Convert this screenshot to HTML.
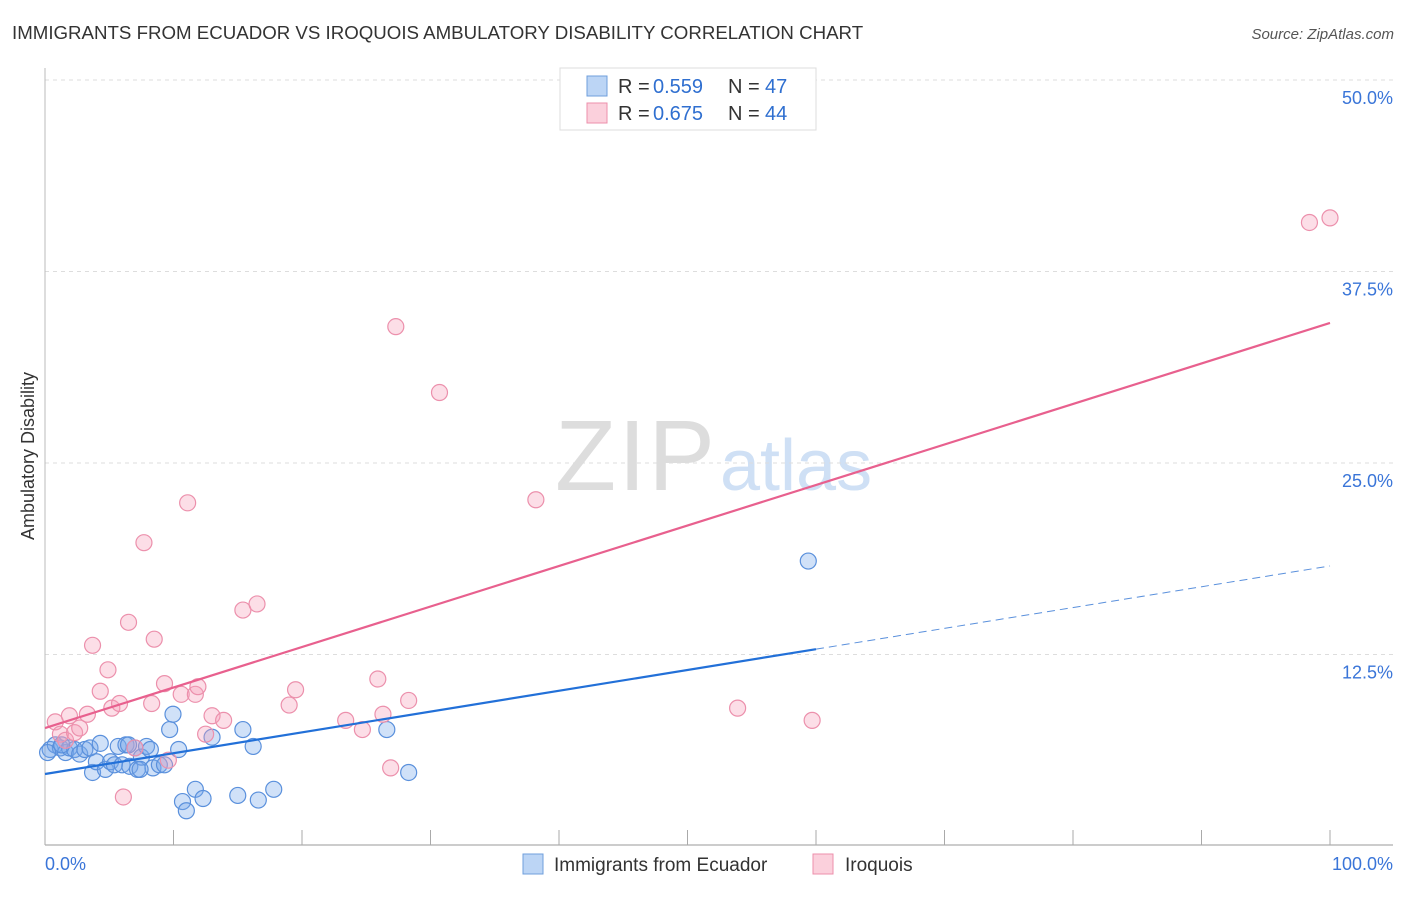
<!DOCTYPE html>
<html><head><meta charset="utf-8"><style>
body{margin:0;background:#fff;font-family:"Liberation Sans",sans-serif;}
svg text{font-family:"Liberation Sans",sans-serif;}
</style></head><body>
<svg id="chart" width="1406" height="892">
<text x="12" y="39" font-size="18.7" fill="#333">IMMIGRANTS FROM ECUADOR VS IROQUOIS AMBULATORY DISABILITY CORRELATION CHART</text>
<text x="1394" y="39" font-size="15" fill="#555" font-style="italic" text-anchor="end">Source: ZipAtlas.com</text>
<text x="715" y="490" font-size="100" fill="#ddd" font-family="Liberation Serif" text-anchor="end" textLength="160">ZIP</text>
<text x="720" y="490" font-size="72" fill="#cfe0f5">atlas</text>
<text transform="translate(34,456) rotate(-90)" font-size="18" fill="#333" text-anchor="middle">Ambulatory Disability</text>
<g id="grid"></g><g id="marks"></g>
<g>
<rect x="560" y="68" width="256" height="62" fill="#fff" stroke="#ddd"/>
<rect x="587" y="76" width="20" height="20" fill="#bcd5f5" stroke="#6f9fdc"/>
<text x="618" y="93" font-size="20" fill="#333">R =</text><text x="653" y="93" font-size="20" fill="#2f6fd0">0.559</text>
<text x="728" y="93" font-size="20" fill="#333">N =</text><text x="765" y="93" font-size="20" fill="#2f6fd0">47</text>
<rect x="587" y="103" width="20" height="20" fill="#fbd0dc" stroke="#ec8fab"/>
<text x="618" y="120" font-size="20" fill="#333">R =</text><text x="653" y="120" font-size="20" fill="#2f6fd0">0.675</text>
<text x="728" y="120" font-size="20" fill="#333">N =</text><text x="765" y="120" font-size="20" fill="#2f6fd0">44</text>
</g>
<g>
<rect x="523" y="854" width="20" height="20" fill="#bcd5f5" stroke="#6f9fdc"/>
<text x="554" y="871" font-size="19" fill="#333">Immigrants from Ecuador</text>
<rect x="813" y="854" width="20" height="20" fill="#fbd0dc" stroke="#ec8fab"/>
<text x="845" y="871" font-size="19" fill="#333">Iroquois</text>
</g>
</svg>
<script>
const yTicks=[12.5,25,37.5,50];
const yTickLabels=["12.5%","25.0%","37.5%","50.0%"];
const xTickLabels=["0.0%","100.0%"];
const blueX=[0.4,0.8,1.2,1.6,1.9,2.3,2.7,3.1,3.5,3.7,4.0,4.3,4.7,5.1,5.4,5.7,6.0,6.3,6.6,7.0,7.2,7.5,7.9,8.2,8.4,8.9,9.3,9.7,9.96,10.4,10.7,11.0,11.7,12.3,13.0,15.0,15.4,16.2,16.6,17.8,26.6,28.3,59.4,1.3,0.2,7.4,6.5];
const blueY=[6.3,6.6,6.4,6.1,6.4,6.3,6.0,6.3,6.4,4.8,5.5,6.7,5.0,5.5,5.3,6.5,5.3,6.6,5.2,6.4,5.0,5.8,6.5,6.3,5.1,5.3,5.3,7.6,8.6,6.3,2.9,2.3,3.7,3.1,7.1,3.3,7.6,6.5,3.0,3.7,7.6,4.8,18.6,6.6,6.1,5.0,6.6];
const pinkX=[0.8,1.2,1.6,1.9,2.3,2.7,3.3,3.7,4.3,4.9,5.2,5.8,6.1,6.5,7.0,7.7,8.3,8.5,9.3,9.6,10.6,11.1,11.7,11.9,12.5,13.0,13.9,15.4,16.5,19.0,19.5,23.4,24.7,25.9,26.3,26.9,27.3,28.3,30.7,38.2,53.9,59.7,98.4,100.0];
const pinkY=[8.1,7.3,6.9,8.5,7.4,7.7,8.6,13.1,10.1,11.5,9.0,9.3,3.2,14.6,6.4,19.8,9.3,13.5,10.6,5.6,9.9,22.4,9.9,10.4,7.3,8.5,8.2,15.4,15.8,9.2,10.2,8.2,7.6,10.9,8.6,5.1,33.9,9.5,29.6,22.6,9.0,8.2,40.7,41.0];
const pinkLine=[7.7,34.14];
const blueLine=[4.7,18.28];
const blueSolidEnd=60;
const NS="http://www.w3.org/2000/svg";
const X=v=>45+v/100*1285, Y=v=>846-v/12.5*191.5;
function mk(t,a,p){const e=document.createElementNS(NS,t);for(const k in a)e.setAttribute(k,a[k]);p.appendChild(e);return e;}
const g=document.getElementById('grid'), m=document.getElementById('marks');
yTicks.forEach((t,i)=>{
 const l=mk('line',{x1:45,x2:1393,y1:Y(t),y2:Y(t),stroke:'#ddd','stroke-dasharray':'4,4'},g);
 
 
 const tx=mk('text',{x:1393,y:Y(t)+24,'font-size':18,fill:'#3a75d8','text-anchor':'end'},g);
 tx.textContent=yTickLabels[i];
 
 
});
const ax=mk('line',{x1:45,x2:1393,y1:845,y2:845,stroke:'#999'},g);


const ay=mk('line',{x1:45,x2:45,y1:68,y2:845,stroke:'#bbb'},g);


for(let i=0;i<=10;i++){const t=mk('line',{x1:X(i*10),x2:X(i*10),y1:830,y2:845,stroke:'#aaa'},g);
 
 }
[[0,'start',45],[100,'end',1393]].forEach((d,i)=>{const t=mk('text',{x:d[2],y:870,'font-size':18,fill:'#3a75d8','text-anchor':d[1]},g);t.textContent=xTickLabels[i];
 
 });
blueX.forEach((x,i)=>{const c=mk('circle',{cx:X(x),cy:Y(blueY[i]),r:8,fill:'rgba(120,170,235,0.35)',stroke:'#5a90dc','stroke-width':1.2},m);
 
 });
pinkX.forEach((x,i)=>{const c=mk('circle',{cx:X(x),cy:Y(pinkY[i]),r:8,fill:'rgba(245,160,185,0.35)',stroke:'#ec90ac','stroke-width':1.2},m);
 
 });
const bAt=x=>blueLine[0]+(blueLine[1]-blueLine[0])*x/100;
const pl=mk('line',{x1:X(0),y1:Y(pinkLine[0]),x2:X(100),y2:Y(pinkLine[1]),stroke:'#e8608e','stroke-width':2.2},m);


const bl=mk('line',{x1:X(0),y1:Y(bAt(0)),x2:X(blueSolidEnd),y2:Y(bAt(blueSolidEnd)),stroke:'#2270d8','stroke-width':2.2},m);


const bd=mk('line',{x1:X(blueSolidEnd),y1:Y(bAt(blueSolidEnd)),x2:X(100),y2:Y(bAt(100)),stroke:'#5a90dc','stroke-width':1,'stroke-dasharray':'8,5'},m);


</script>
</body></html>
